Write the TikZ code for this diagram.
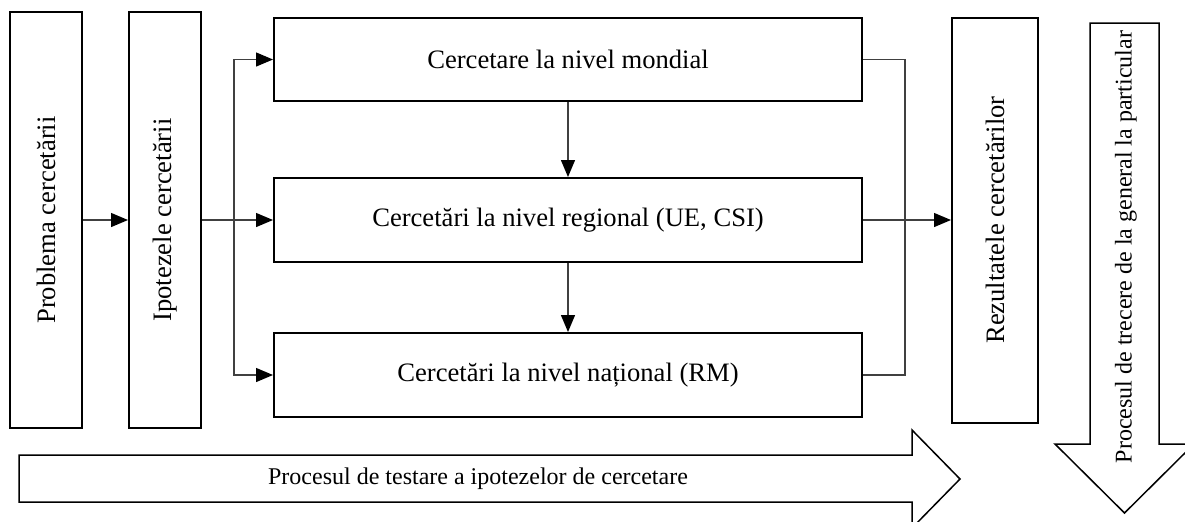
\documentclass[tikz,border=0pt]{standalone}
\usepackage{fontspec}
\setmainfont{Liberation Serif}
\usetikzlibrary{arrows.meta}

\begin{document}
\begin{tikzpicture}[x=0.5pt, y=-0.5pt,
  box/.style={draw=black, line width=1pt, inner sep=0pt, font=\fontsize{13.3}{16}\selectfont},
  link/.style={draw=black!75, line width=0.65pt},
  arr/.style={link, -{Triangle[length=8.5pt, width=7pt, color=black]}},
  bigarrow/.style={draw=black, line width=0.75pt, fill=white},
  proc/.style={inner sep=0pt, font=\fontsize{12}{14}\selectfont}]
\useasboundingbox (0,0) rectangle (1185,521);
\node[box, minimum width=36pt, minimum height=208pt] (Nprob) at (46,220) {\rotatebox{90}{Problema cercetării}};
\node[box, minimum width=36pt, minimum height=208pt] (Nipot) at (165,220) {\rotatebox{90}{Ipotezele cercetării}};
\node[box, minimum width=294pt, minimum height=41.5pt] (Nmond) at (568,59.5) {Cercetare la nivel mondial};
\node[box, minimum width=294pt, minimum height=42pt] (Nreg) at (568,220) {Cercetări la nivel regional (UE, CSI)};
\node[box, minimum width=294pt, minimum height=42pt] (Nnat) at (568,375) {Cercetări la nivel național (RM)};
\node[box, minimum width=43pt, minimum height=202.5pt] (Nrez) at (995,220) {\rotatebox{90}{Rezultatele cercetărilor}};
\coordinate (Csplit) at (234,220);
\coordinate (Cjoin) at (905,220);
\draw[arr] (Nprob) -- (Nipot);
\draw[link] (Nipot.east) -- (Csplit);
\draw[arr] (Csplit) -- (Nreg.west);
\draw[arr] (Csplit) |- (Nmond.west);
\draw[arr] (Csplit) |- (Nnat.west);
\draw[arr] (Nmond) -- (Nreg);
\draw[arr] (Nreg) -- (Nnat);
\draw[link] (Nmond.east) -| (Cjoin) |- (Nnat.east);
\draw[arr] (Nreg.east) -- (Nrez.west);
\draw[bigarrow] (19,455) -- (912,455) -- (912,430) -- (960,479) -- (912,528) -- (912,502) -- (19,502) -- cycle;
\node[proc] (Ttest) at (478,479) {Procesul de testare a ipotezelor de cercetare};
\draw[bigarrow] (1090,23) -- (1159,23) -- (1159,444) -- (1194,444) -- (1124.5,513) -- (1055,444) -- (1090,444) -- cycle;
\node[proc, rotate=90] (Tpart) at (1126,247) {Procesul de trecere de la general la particular};
\end{tikzpicture}
\end{document}
